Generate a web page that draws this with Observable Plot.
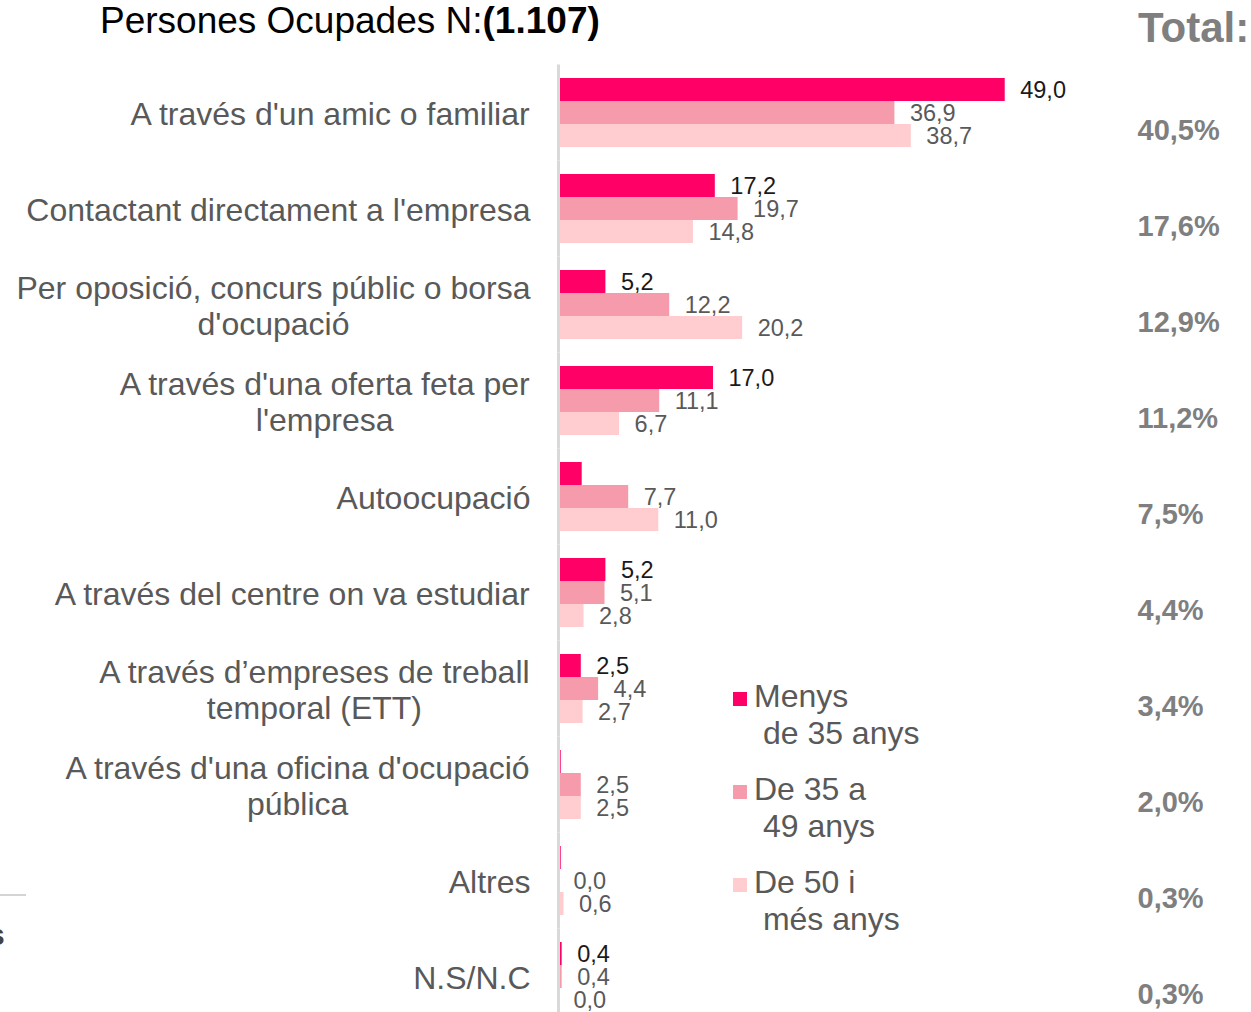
<!DOCTYPE html>
<html>
<head>
<meta charset="utf-8">
<script src="https://cdn.jsdelivr.net/npm/d3@7"></script>
<script src="https://cdn.jsdelivr.net/npm/@observablehq/plot@0.6"></script>
<style>
  html, body { margin: 0; padding: 0; background: #ffffff; }
  #wrap { position: relative; width: 1251px; height: 1012px; overflow: hidden; font-family: Arial, "Liberation Sans", sans-serif; }
  #title { position: absolute; left: 100px; top: 0px; font-size: 37px; color: #000; white-space: nowrap; }
  #total { position: absolute; left: 1138px; top: 4px; font-size: 42px; font-weight: bold; color: #7f7f7f; }
  #legend { position: absolute; left: 733px; top: 678px; }
  .li { position: relative; height: 93px; }
  .sw { position: absolute; left: 0; top: 14px; width: 14px; height: 14px; }
  .lt { position: absolute; left: 21px; top: 0; font-size: 32px; line-height: 37px; color: #595959; white-space: pre; }
  #deco1 { position: absolute; left: 0; top: 894px; width: 26px; height: 2px; background: #d4d4d4; }
  #deco2 { position: absolute; left: -12px; top: 918px; font-size: 30px; font-weight: bold; color: #444; }
</style>
</head>
<body>
<div id="wrap">
  <div id="chart"></div>
  <div id="title">Persones Ocupades N:<b>(1.107)</b></div>
  <div id="total">Total:</div>
  <div id="legend"></div>
  <div id="deco1"></div>
  <div id="deco2">s</div>
</div>
<script>
// ---- data ----
const categories = [
  "A través d'un amic o familiar",
  "Contactant directament a l'empresa",
  "Per oposició, concurs públic o borsa d'ocupació",
  "A través d'una oferta feta per l'empresa",
  "Autoocupació",
  "A través del centre on va estudiar",
  "A través d’empreses de treball temporal (ETT)",
  "A través d'una oficina d'ocupació pública",
  "Altres",
  "N.S/N.C"
];
const categoryLabels = [
  "A través d'un amic o familiar",
  "Contactant directament a l'empresa",
  "Per oposició, concurs públic o borsa\nd'ocupació",
  "A través d'una oferta feta per\nl'empresa",
  "Autoocupació",
  "A través del centre on va estudiar",
  "A través d’empreses de treball\ntemporal (ETT)",
  "A través d'una oficina d'ocupació\npública",
  "Altres",
  "N.S/N.C"
];
const series = ["Menys de 35 anys", "De 35 a 49 anys", "De 50 i més anys"];
const seriesLegend = ["Menys\n de 35 anys", "De 35 a\n 49 anys", "De 50 i\n més anys"];
const menys35 = [49.0, 17.2, 5.2, 17.0, 2.6, 5.2, 2.5, 0.3, 0.3, 0.4];
const de35a49 = [36.9, 19.7, 12.2, 11.1, 7.7, 5.1, 4.4, 2.5, 0.0, 0.4];
const de50    = [38.7, 14.8, 20.2, 6.7, 11.0, 2.8, 2.7, 2.5, 0.6, 0.0];
const totals  = [40.5, 17.6, 12.9, 11.2, 7.5, 4.4, 3.4, 2.0, 0.3, 0.3];
// bars shown without a value label in the original
const unlabeled = [
  ["Autoocupació", "Menys de 35 anys"],
  ["A través d'una oficina d'ocupació pública", "Menys de 35 anys"],
  ["Altres", "Menys de 35 anys"]
];
const colors = ["#ff0066", "#f59bab", "#ffcdcf"];
const labelColors = ["#1a1a1a", "#595959", "#595959"];

// ---- table ----
const seriesValues = [menys35, de35a49, de50];
const rows = [];
categories.forEach((c, i) => {
  series.forEach((s, j) => {
    rows.push({cat: c, series: s, value: seriesValues[j][i],
      labeled: !unlabeled.some(u => u[0] === c && u[1] === s)});
  });
});
const fmt = v => v.toFixed(1).replace(".", ",");
const totalRows = categories.map((c, i) => ({cat: c, total: fmt(totals[i]) + "%"}));

const FONT = "Arial, 'Liberation Sans', sans-serif";
// measure label widths to center multi-line labels in a right-aligned block
const ctx = document.createElement("canvas").getContext("2d");
const catSize = 32;
ctx.font = catSize + "px Arial, 'Liberation Sans', sans-serif";
const blockWidth = lbl => Math.max(...lbl.split("\n").map(t => ctx.measureText(t).width));

const labelMarks = categories.map((c, i) => {
  const w = blockWidth(categoryLabels[i]);
  return Plot.text([c], {
    fy: d => d, text: () => categoryLabels[i],
    frameAnchor: "left", textAnchor: "middle", dx: -(28 + w / 2),
    lineHeight: 1.13, fontSize: catSize, fill: "#595959", fontFamily: FONT
  });
});

const valueMarks = series.map((s, j) => Plot.text(rows.filter(r => r.series === s && r.labeled), {
  x: "value", y: "series", fy: "cat", text: d => fmt(d.value),
  textAnchor: "start", dx: 15, fontSize: 23.5, fill: labelColors[j], fontFamily: FONT
}));

const chart = Plot.plot({
  width: 1251,
  height: 1012,
  marginLeft: 558,
  marginRight: 146,
  marginTop: 78,
  marginBottom: 1,
  facet: {marginTop: 0, marginRight: 0, marginBottom: 0, marginLeft: 0},
  style: {background: "transparent", fontFamily: FONT},
  x: {domain: [0, 60], axis: null},
  y: {domain: series, padding: 0, axis: null},
  fy: {domain: categories, paddingInner: 0.28125, paddingOuter: 0, axis: null},
  color: {domain: series, range: colors},
  marks: [
    Plot.barX(rows, {x: "value", y: "series", fy: "cat", fill: "series"}),
    Plot.ruleX([0], {stroke: "#d9d9d9", strokeWidth: 3, insetTop: -13.5, insetBottom: -13.5}),
    ...valueMarks,
    ...labelMarks,
    Plot.text(totalRows, {
      fy: "cat", text: "total", frameAnchor: "right", textAnchor: "start",
      dx: 32, dy: 18, fontSize: 29, fontWeight: "bold", fill: "#7f7f7f", fontFamily: FONT
    })
  ]
});
chart.style.overflow = "visible";
document.getElementById("chart").appendChild(chart);

// legend
const legend = document.getElementById("legend");
series.forEach((s, j) => {
  const item = document.createElement("div");
  item.className = "li";
  item.innerHTML = `<div class="sw" style="background:${colors[j]}"></div><div class="lt"></div>`;
  item.querySelector(".lt").textContent = seriesLegend[j];
  legend.appendChild(item);
});
</script>
</body>
</html>
